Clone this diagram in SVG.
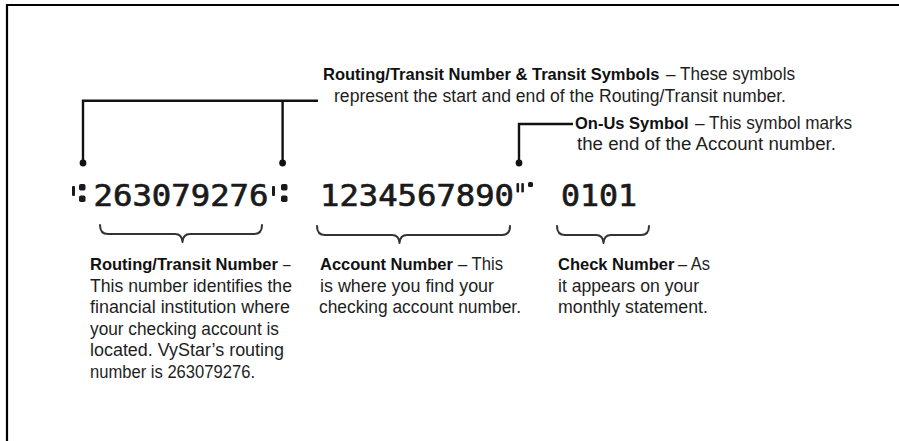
<svg xmlns="http://www.w3.org/2000/svg" width="899" height="441" viewBox="0 0 899 441">
<style>
.t{font-family:"Liberation Sans",Arial,sans-serif;font-size:17.5px;fill:#1e1e1e;}
.b{font-family:"Liberation Sans",Arial,sans-serif;font-size:16.5px;font-weight:bold;fill:#111;}
.micr{font-family:"DejaVu Sans Mono","Liberation Mono",monospace;font-size:31px;fill:#1a1a1a;stroke:#1a1a1a;stroke-width:0.7;}
.sym{fill:#1a1a1a;}
.lead{fill:none;stroke:#111;stroke-width:2.4;}
.brace{fill:none;stroke:#333;stroke-width:2;stroke-linejoin:round;stroke-linecap:round;}
.dot{fill:#111;}
.frame{stroke:#000;stroke-width:2.2;fill:none;}
</style>
<rect width="899" height="441" fill="#fff"/>
<g id="frame">
<path class="frame" d="M7,441 V5 H899"/>
</g>

<g id="micr-routing">
<rect class="sym" x="72" y="186" width="3" height="10" rx="1"/>
<rect class="sym" x="79" y="184" width="6.5" height="6.5" rx="1.8"/>
<rect class="sym" x="79" y="195.5" width="6.5" height="6.5" rx="1.8"/>
<text class="micr" x="93.5" y="206" textLength="175" lengthAdjust="spacingAndGlyphs">263079276</text>
<rect class="sym" x="272" y="186" width="3" height="10" rx="1"/>
<rect class="sym" x="281" y="184" width="6.5" height="6.5" rx="1.8"/>
<rect class="sym" x="281" y="195.5" width="6.5" height="6.5" rx="1.8"/>
</g>

<g id="micr-account">
<text class="micr" x="320" y="206" textLength="194" lengthAdjust="spacingAndGlyphs">1234567890</text>
<rect class="sym" x="516.5" y="183" width="2.6" height="9.5" rx="1"/>
<rect class="sym" x="521.3" y="183" width="2.6" height="9.5" rx="1"/>
<rect class="sym" x="528" y="182" width="5" height="5" rx="1.5"/>
</g>

<g id="micr-check">
<text class="micr" x="561" y="206" textLength="76" lengthAdjust="spacingAndGlyphs">0101</text>
</g>

<g id="connectors">
<path class="lead" d="M83,163 V100.7 H318 M282.6,100.7 V163"/>
<circle class="dot" cx="83" cy="163" r="3.4"/>
<circle class="dot" cx="282.6" cy="163" r="3.4"/>
<path class="lead" d="M519,163 V124 H573"/>
<circle class="dot" cx="519" cy="163" r="3.4"/>
<path class="brace" d="M100,225 Q100,234 108,234 H175 Q182,234 182.5,242 Q183,234 190,234 H254 Q262,234 262,225"/>
<path class="brace" d="M317,226 Q317,235 325,235 H392 Q399,235 399.5,243 Q400,235 407,235 H502 Q510,235 510,226"/>
<path class="brace" d="M557,226 Q557,235 565,235 H596 Q603,235 603.5,243 Q604,235 611,235 H641 Q649,235 649,226"/>
</g>

<g id="label-transit">
<text class="b" x="323" y="80">Routing/Transit Number &amp; Transit Symbols</text>
<text class="t" x="666" y="80" textLength="129" lengthAdjust="spacingAndGlyphs">– These symbols</text>
<text class="t" x="334" y="102" textLength="452" lengthAdjust="spacingAndGlyphs">represent the start and end of the Routing/Transit number.</text>
</g>

<g id="label-onus">
<text class="b" x="575" y="129">On-Us Symbol</text>
<text class="t" x="695" y="129" textLength="157" lengthAdjust="spacingAndGlyphs">– This symbol marks</text>
<text class="t" x="577" y="150" textLength="259" lengthAdjust="spacingAndGlyphs">the end of the Account number.</text>
</g>

<g id="label-routing">
<text class="b" x="90" y="270">Routing/Transit Number</text>
<text class="t" x="283" y="270" textLength="7.5" lengthAdjust="spacingAndGlyphs">–</text>
<text class="t" x="90" y="291.5" textLength="202" lengthAdjust="spacingAndGlyphs">This number identifies the</text>
<text class="t" x="90" y="313" textLength="200" lengthAdjust="spacingAndGlyphs">financial institution where</text>
<text class="t" x="90" y="334.5" textLength="189" lengthAdjust="spacingAndGlyphs">your checking account is</text>
<text class="t" x="90" y="356" textLength="194" lengthAdjust="spacingAndGlyphs">located. VyStar’s routing</text>
<text class="t" x="90" y="377.5" textLength="165" lengthAdjust="spacingAndGlyphs">number is 263079276.</text>
</g>

<g id="label-account">
<text class="b" x="320" y="270">Account Number</text>
<text class="t" x="457.9" y="270" textLength="45.1" lengthAdjust="spacingAndGlyphs">– This</text>
<text class="t" x="320" y="291.5" textLength="174" lengthAdjust="spacingAndGlyphs">is where you find your</text>
<text class="t" x="319" y="313" textLength="202" lengthAdjust="spacingAndGlyphs">checking account number.</text>
</g>

<g id="label-check">
<text class="b" x="558" y="270">Check Number</text>
<text class="t" x="678" y="270" textLength="32" lengthAdjust="spacingAndGlyphs">– As</text>
<text class="t" x="558" y="291.5" textLength="141" lengthAdjust="spacingAndGlyphs">it appears on your</text>
<text class="t" x="558" y="313" textLength="150" lengthAdjust="spacingAndGlyphs">monthly statement.</text>
</g>
</svg>
